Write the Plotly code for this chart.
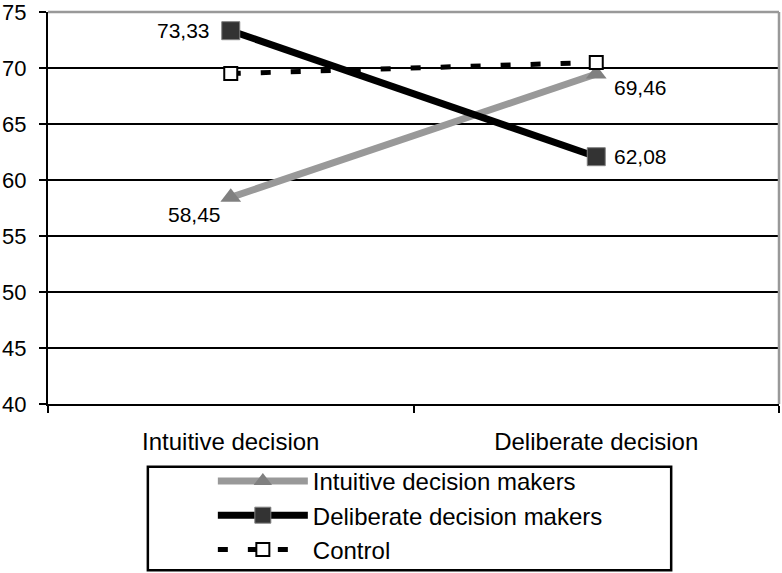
import plotly.graph_objects as go

# Mean scores per decision condition
categories = ["Intuitive decision", "Deliberate decision"]
intuitive_makers = [58.45, 69.46]
deliberate_makers = [73.33, 62.08]
control = [69.5, 70.5]

y_ticks = [40, 45, 50, 55, 60, 65, 70, 75]

FONT = "Liberation Sans, Arial, Helvetica, sans-serif"


def comma_label(v):
    return f"{v:.2f}".replace(".", ",")


fig = go.Figure()

fig.add_trace(go.Scatter(
    x=categories, y=intuitive_makers,
    name="Intuitive decision makers", legendgroup="a",
    mode="lines+markers",
    line=dict(color="#999999", width=7),
    marker=dict(symbol="triangle-up", size=18, color="#808080"),
))

fig.add_trace(go.Scatter(
    x=categories, y=deliberate_makers,
    name="Deliberate decision makers", legendgroup="b",
    mode="lines+markers",
    line=dict(color="#000000", width=7),
    marker=dict(symbol="square", size=18, color="#333333",
                line=dict(color="#808080", width=1)),
))

fig.add_trace(go.Scatter(
    x=categories, y=control,
    name="Control", legendgroup="c",
    mode="lines+markers",
    line=dict(color="#000000", width=5, dash="10px,20px"),
    marker=dict(symbol="square", size=13, color="#ffffff",
                line=dict(color="#000000", width=2)),
))

# Value labels placed next to each marker (pixel offsets per point)
label_font = dict(family=FONT, size=21, color="#000000")
label_specs = [
    (categories[0], intuitive_makers[0], "right", -8, -17),
    (categories[1], intuitive_makers[1], "left", 16, -13),
    (categories[0], deliberate_makers[0], "right", -19, 0),
    (categories[1], deliberate_makers[1], "left", 16, 0),
]
for cx, cy, anchor, dx, dy in label_specs:
    fig.add_annotation(
        x=cx, y=cy, xref="x", yref="y", text=comma_label(cy),
        showarrow=False, xanchor=anchor, yanchor="middle",
        xshift=dx, yshift=dy, font=label_font,
    )

fig.update_layout(
    width=782, height=573,
    margin=dict(l=48, r=3, t=12, b=169, autoexpand=False),
    paper_bgcolor="#ffffff", plot_bgcolor="#ffffff",
    font=dict(family=FONT, size=23, color="#000000"),
    showlegend=True,
    legend=dict(
        x=0.2255, xanchor="left", y=-0.14, yanchor="top",
        bgcolor="rgba(0,0,0,0)", borderwidth=0,
        itemwidth=90, traceorder="grouped", tracegroupgap=0,
        font=dict(family=FONT, size=24, color="#000000"),
    ),
    shapes=[
        # legend frame
        dict(type="rect", xref="paper", yref="paper",
             x0=0.1366, x1=0.8525, y0=-0.424, y1=-0.16,
             line=dict(color="#000000", width=2.5), fillcolor="rgba(0,0,0,0)"),
        # plot area frame (top and right edges)
        dict(type="line", xref="paper", yref="paper", x0=0, x1=1, y0=1, y1=1,
             line=dict(color="#999999", width=2.5), layer="above"),
        dict(type="line", xref="paper", yref="paper", x0=1, x1=1, y0=0, y1=1,
             line=dict(color="#999999", width=2.5), layer="above"),
    ],
)

fig.update_xaxes(
    type="category", range=[-0.5, 1.5],
    showgrid=False, zeroline=False,
    showline=True, linecolor="#000000", linewidth=2,
    ticks="outside", tickson="boundaries", ticklen=7, tickwidth=2, tickcolor="#000000",
    ticklabelstandoff=15,
    tickfont=dict(family=FONT, size=24, color="#000000"),
)

fig.update_yaxes(
    range=[40, 75], tickvals=y_ticks,
    showgrid=True, gridcolor="#000000", gridwidth=1.5,
    zeroline=False,
    showline=True, linecolor="#000000", linewidth=2,
    ticks="outside", ticklen=7, tickwidth=2, tickcolor="#000000",
    ticklabelstandoff=8, ticklabeloverflow="allow",
    tickfont=dict(family=FONT, size=22, color="#000000"),
)

fig.write_html("out.html")
